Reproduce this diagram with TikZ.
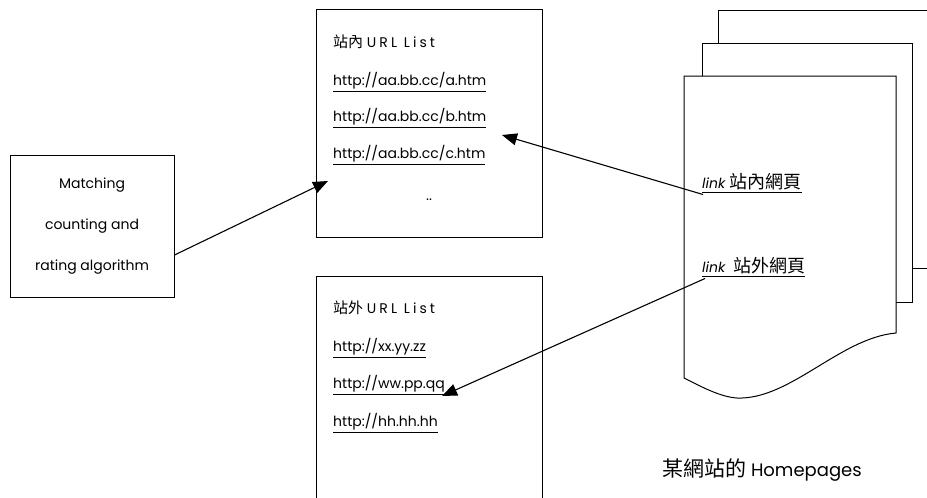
\documentclass[tikz,border=0pt]{standalone}
\usepackage{fontspec}
\setmainfont{Poppins}
\newfontfamily\cjk{Noto Sans CJK TC}
\newfontfamily\wide[LetterSpace=22]{Poppins}
\usetikzlibrary{arrows.meta,positioning,calc}

\begin{document}
\begin{tikzpicture}[x=1pt,y=-1pt,
  box/.style={draw,line width=1pt},
  page/.style={draw,fill=white,line width=1pt},
  txt/.style={anchor=west,inner sep=0pt,font=\fontsize{14}{16}\selectfont},
  link/.style={-{Triangle[length=15pt,width=12pt]},line width=1.1pt}]

  \useasboundingbox (0,0) rectangle (927,498);
  \clip (0,0) rectangle (927,498);

  % Boxes
  \node[box,minimum width=164pt,minimum height=142pt,align=center,
    font=\fontsize{14}{41}\selectfont] (algo) at (92,226)
    {Matching\\counting and\\rating algorithm};
  \node[box,minimum width=226pt,minimum height=228pt] (inbox) at (429,123) {};
  \node[box,minimum width=226pt,minimum height=243pt] (outbox) at (429,398) {};

  % Pages of the site
  \draw[page] (718,10) rectangle (940,268);
  \draw[page] (702,43) rectangle (912,302);
  \draw[page] (684,76) -- (896,76) -- (896,333)
    .. controls (840,338) and (790,400) .. (737,398)
    .. controls (720,397) and (700,386) .. (684,378) -- cycle;

  % URL lists
  \node[txt] (intitle) at (333,42) {{\cjk\fontsize{15}{17}\selectfont 站內} {\wide URL List}};
  \node[txt] (ina) at (333,82) {\underline{http://aa.bb.cc/a.htm}};
  \node[txt] (inb) at (333,118) {\underline{http://aa.bb.cc/b.htm}};
  \node[txt] (inc) at (333,155) {\underline{http://aa.bb.cc/c.htm}};
  \node[txt] (indots) at (426,200) {..};
  \node[txt] (outtitle) at (333,308) {{\cjk\fontsize{15}{17}\selectfont 站外} {\wide URL List}};
  \node[txt] (outx) at (333,348) {\underline{http://xx.yy.zz}};
  \node[txt] (outw) at (333,385) {\underline{http://ww.pp.qq}};
  \node[txt] (outh) at (333,423) {\underline{http://hh.hh.hh}};

  % Links on the page
  \node[txt] (linkin) at (702,183)
    {\underline{\textit{link} {\cjk\fontsize{18}{20}\selectfont 站內網頁}}};
  \node[txt] (linkout) at (702,267)
    {\underline{\textit{link}\ \ {\cjk\fontsize{18}{20}\selectfont 站外網頁}}};
  \node[txt,font=\fontsize{18}{20}\selectfont] (homes) at (662,470)
    {{\cjk\fontsize{21}{23}\selectfont 某網站的} Homepages};

  % Arrows
  \coordinate (tipin) at (328,181);
  \coordinate (tipb) at (502,135);
  \coordinate (tipq) at (442,396);
  \draw[link] ($(algo.east)+(0,29)$) -- (tipin);
  \draw[link] ($(linkin.south west)+(1,2)$) -- (tipb);
  \draw[link] ($(linkout.south west)+(3,2)$) -- (tipq);

\end{tikzpicture}
\end{document}
